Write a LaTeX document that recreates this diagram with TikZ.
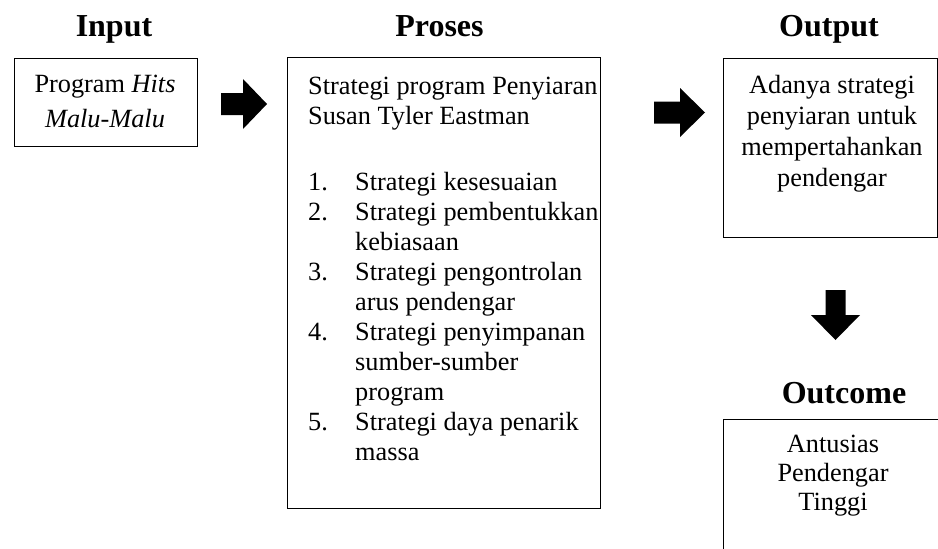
\documentclass[tikz,border=0pt]{standalone}
\usepackage{fontspec}
\setmainfont{Liberation Serif}
\begin{document}
\begin{tikzpicture}[x=1pt,y=-1pt,
  title/.style={font=\fontsize{32}{38}\selectfont\bfseries, inner sep=0pt, anchor=base},
  frame/.style={draw=black, line width=1pt, inner sep=0pt, outer sep=0pt},
  edge/.style={draw=black, line width=1pt},
  txt/.style={inner sep=0pt, anchor=base},
  blockarrow/.style={fill=black, draw=none},
]
\useasboundingbox (0,0) rectangle (938,549);

% titles
\node[title] (tin) at (114,36) {Input};
\node[title] (tpr) at (439.5,36) {Proses};
\node[title] (tout) at (829,36) {Output};
\node[title] (toc) at (844,403) {Outcome};

% frames
\node[frame, minimum width=183pt, minimum height=88pt] (inbox) at (105.5,102) {};
\node[frame, minimum width=313.5pt, minimum height=451pt] (prbox) at (443.75,282.5) {};
\node[frame, minimum width=214pt, minimum height=179pt] (outbox) at (830,147.5) {};
\coordinate (ocTL) at (723,419);
\coordinate (ocTR) at (950,419);
\coordinate (ocBL) at (723,560);
\draw[edge] (ocTR) -- (ocTL) -- (ocBL);

% texts
\node[txt, font=\fontsize{26.3}{35}\selectfont] (intext) at (105,92)
  {\begin{tabular}[t]{@{}c@{}}Program \textit{Hits}\\ \textit{Malu-Malu}\end{tabular}};

\node[txt, anchor=base west, font=\fontsize{26.3}{30}\selectfont] (prtext) at (308,94)
  {\begin{tabular}[t]{@{}p{47pt}@{}l@{}}
  \multicolumn{2}{@{}l@{}}{Strategi program Penyiaran}\\
  \multicolumn{2}{@{}l@{}}{Susan Tyler Eastman}\\[36pt]
  1.&Strategi kesesuaian\\
  2.&Strategi pembentukkan\\
    &kebiasaan\\
  3.&Strategi pengontrolan\\
    &arus pendengar\\
  4.&Strategi penyimpanan\\
    &sumber-sumber\\
    &program\\
  5.&Strategi daya penarik\\
    &massa
  \end{tabular}};

\node[txt, font=\fontsize{26.3}{31}\selectfont] (outtext) at (832,93)
  {\begin{tabular}[t]{@{}c@{}}Adanya strategi\\ penyiaran untuk\\ mempertahankan\\ pendengar\end{tabular}};

\node[txt, font=\fontsize{26.3}{29}\selectfont] (octext) at (833,452)
  {\begin{tabular}[t]{@{}c@{}}Antusias\\ Pendengar\\ Tinggi\end{tabular}};

% block arrows
\fill[blockarrow] (221,93) -- (243,93) -- (243,79) -- (267,104) -- (243,129) -- (243,115) -- (221,115) -- cycle;
\fill[blockarrow] (654,101.5) -- (680,101.5) -- (680,88) -- (705,112.5) -- (680,137) -- (680,123.5) -- (654,123.5) -- cycle;
\fill[blockarrow] (825.5,290) -- (845.5,290) -- (845.5,315) -- (860,315) -- (835.5,340) -- (811,315) -- (825.5,315) -- cycle;
\end{tikzpicture}
\end{document}
